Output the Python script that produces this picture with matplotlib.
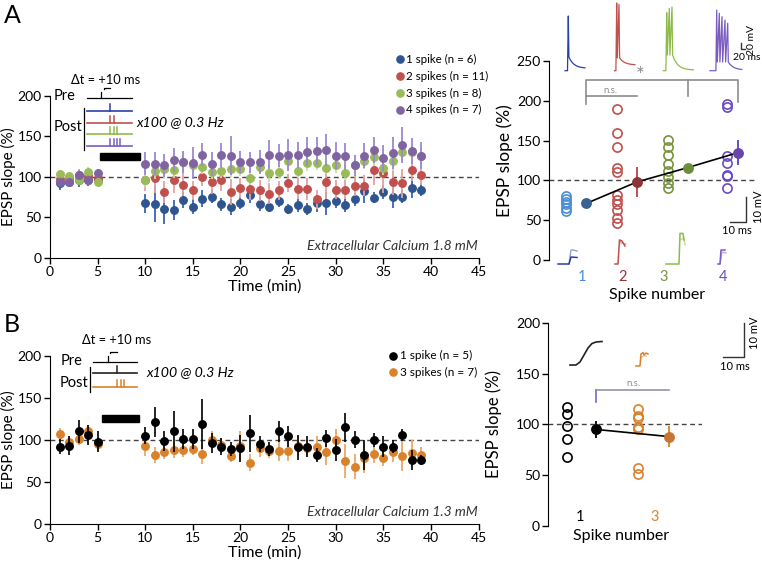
import numpy as np
import matplotlib.pyplot as plt
from matplotlib.patches import Rectangle

plt.rcParams['font.family'] = ['Lato', 'DejaVu Sans']

# ---- dati pannello A (Ca 1.8 mM) ----
time_min = [1, 2, 3, 4, 5, 10, 11, 12, 13, 14, 15, 16, 17, 18, 19, 20, 21, 22, 23, 24,
            25, 26, 27, 28, 29, 30, 31, 32, 33, 34, 35, 36, 37, 38, 39]

a_spk1 = [92, 94, 96, 96, 97,
          67, 66, 60, 59, 71, 63, 73, 75, 66, 63, 68, 77, 66, 63, 70,
          60, 65, 60, 67, 67, 70, 65, 72, 82, 74, 81, 75, 75, 86, 84]
a_spk1_err = [8, 6, 9, 7, 7,
              12, 22, 18, 12, 10, 9, 10, 8, 8, 10, 8, 9, 8, 7, 8,
              6, 8, 7, 10, 14, 9, 8, 8, 15, 7, 9, 14, 8, 12, 8]
a_spk2 = [97, 98, 102, 101, 99,
          96, 98, 81, 96, 90, 83, 100, 94, 96, 81, 86, 85, 83, 79, 83,
          92, 85, 85, 72, 93, 84, 84, 89, 89, 108, 105, 93, 92, 108, 102]
a_spk2_err = [6, 5, 7, 6, 6,
              14, 18, 14, 16, 14, 12, 12, 15, 14, 16, 12, 14, 13, 13, 12,
              11, 13, 14, 12, 20, 12, 12, 13, 13, 18, 25, 15, 18, 13, 12]
a_spk3 = [103, 101, 96, 106, 93,
          96, 107, 109, 108, 118, 114, 112, 106, 107, 110, 110, 99, 112, 104, 106,
          119, 107, 117, 117, 111, 114, 105, 114, 119, 124, 111, 119, 130, 130, 125]
a_spk3_err = [5, 4, 5, 6, 5,
              10, 10, 12, 10, 11, 10, 9, 9, 8, 10, 9, 9, 9, 10, 8,
              10, 9, 10, 9, 8, 9, 9, 9, 10, 11, 9, 12, 11, 10, 10]
a_spk4 = [94, 94, 102, 96, 104,
          116, 116, 114, 121, 118, 117, 127, 116, 127, 126, 118, 118, 118, 127, 126,
          127, 127, 131, 132, 133, 126, 125, 114, 126, 133, 123, 129, 139, 132, 126]
a_spk4_err = [6, 5, 6, 6, 6,
              14, 14, 14, 15, 14, 20, 14, 15, 15, 24, 14, 13, 15, 18, 14,
              20, 16, 18, 17, 20, 17, 17, 13, 15, 16, 16, 20, 22, 16, 17]
a_labels = ['1 spike (n = 6)', '2 spikes (n = 11)', '3 spikes (n = 8)', '4 spikes (n = 7)']

# singole cellule (ultimi minuti) per numero di spike
spike_num = [1, 2, 3, 4]
cells_1 = [80, 77, 73, 70, 65, 61]
cells_2 = [190, 160, 142, 115, 110, 82, 76, 70, 63, 53, 46]
cells_3 = [151, 142, 132, 121, 112, 104, 97, 90]
cells_4 = [196, 192, 131, 122, 107, 106, 91]
a_mean = [71, 98, 116, 135]
a_sem = [3, 19, 4, 16]

# ---- dati pannello B (Ca 1.3 mM) ----
b_spk1 = [92, 93, 110, 106, 98,
          105, 121, 99, 110, 101, 101, 119, 96, 92, 89, 90, 108, 95, 89, 110,
          104, 91, 92, 82, 102, 88, 115, 100, 82, 100, 92, 92, 106, 76, 76]
b_spk1_err = [9, 11, 14, 12, 13,
              10, 18, 12, 24, 12, 12, 30, 12, 10, 8, 16, 22, 10, 8, 12,
              13, 15, 12, 8, 10, 13, 17, 10, 18, 8, 12, 8, 7, 12, 6]
b_spk3 = [107, 97, 101, 110, 95,
          93, 82, 85, 88, 88, 89, 83, 100, 94, 81, 93, 73, 90, 87, 87,
          87, 93, 90, 91, 85, 100, 75, 68, 79, 83, 79, 86, 81, 84, 82]
b_spk3_err = [7, 8, 7, 8, 8,
              12, 10, 8, 10, 8, 7, 12, 10, 8, 7, 17, 10, 10, 9, 12,
              12, 12, 10, 13, 15, 13, 20, 15, 18, 10, 10, 12, 18, 16, 10]
b_labels = ['1 spike (n = 5)', '3 spikes (n = 7)']
b_spike_num = [1, 3]
b_cells_1 = [117, 110, 98, 86, 68]
b_cells_3 = [115, 108, 106, 97, 95, 57, 51]
b_mean = [95, 88]
b_sem = [8, 10]

pairing = (5.2, 9.4)   # barra nera (induzione)

# colori
c_mark = ['#2f5590', '#c0504d', '#9bbb59', '#8064a2']
c_err = ['#3a63b5', '#e0a3a1', '#c8dca4', '#9a8ad0']
c_open = ['#4a8fd6', '#c0504d', '#77933c', '#6a4cc0']
c_mean = ['#3a6190', '#8b3535', '#6b8e3a', '#6a45a8']
c_trace = ['#2a3fa8', '#c0504d', '#8dbb48', '#7a5cc0']
c_orange = '#d9822b'

W, H = 762, 563
fig = plt.figure(figsize=(W / 100, H / 100), dpi=100)


def px_axes(x0, y0, x1, y1):
    return fig.add_axes([x0 / W, 1 - y1 / H, (x1 - x0) / W, (y1 - y0) / H])


def style(ax):
    for s in ['top', 'right']:
        ax.spines[s].set_visible(False)
    ax.tick_params(direction='out', length=4, width=1, labelsize=10, pad=2)


dash = (0, (3.5, 2.5))

# ---------- A: andamento temporale ----------
axA = px_axes(50, 95.7, 478.6, 257.7)
style(axA)
series_a = [(a_spk1, a_spk1_err), (a_spk2, a_spk2_err), (a_spk3, a_spk3_err), (a_spk4, a_spk4_err)]
for i, (y, e) in enumerate(series_a):
    axA.errorbar(time_min, y, yerr=e, fmt='o', ms=5.4, color=c_mark[i], mec=c_mark[i],
                 ecolor=c_err[i], elinewidth=1.3, capsize=0, zorder=3 + i)
axA.axhline(100, color='#444444', lw=1, ls=dash, zorder=2)
axA.add_patch(Rectangle((pairing[0], 121), pairing[1] - pairing[0], 8, color='black', zorder=5))
axA.set_xlim(0, 45)
axA.set_ylim(0, 200)
axA.set_xticks(range(0, 46, 5))
axA.set_yticks(range(0, 201, 50))
axA.set_xlabel('Time (min)', fontsize=11.5, labelpad=1)
axA.set_ylabel('EPSP slope (%)', fontsize=11)
axA.yaxis.set_label_coords(-0.079, 0.5)
axA.text(0.999, 0.07, 'Extracellular Calcium 1.8 mM', transform=axA.transAxes, ha='right',
         va='center', fontsize=10, style='italic', color='#333333')

# ---------- A: numero di spike ----------
axAr = px_axes(549.3, 61, 755, 260)
style(axAr)
axAr.spines['bottom'].set_visible(False)
axAr.set_xticks([])
axAr.set_xlim(0.473, 4.53)
axAr.set_ylim(0, 250)
axAr.set_yticks(range(0, 251, 50))
axAr.set_ylabel('EPSP slope (%)', fontsize=12.5)
axAr.yaxis.set_label_coords(-0.176, 0.5)
axAr.axhline(100, color='#444444', lw=1, ls=dash, zorder=1)
open_dx = [-0.2, -0.19, -0.19, -0.02]
mean_x = [k + 0.2 for k in spike_num]
for i, cells in enumerate([cells_1, cells_2, cells_3, cells_4]):
    axAr.plot([spike_num[i] + open_dx[i]] * len(cells), cells, 'o', mfc='none', mec=c_open[i],
              ms=6.6, mew=1.2, zorder=3)
axAr.plot(mean_x, a_mean, color='black', lw=1.2, zorder=4)
for i in range(4):
    axAr.errorbar(mean_x[i], a_mean[i], yerr=a_sem[i], fmt='o', ms=6.8, color=c_mean[i],
                  ecolor=c_open[i], elinewidth=1.4, capsize=0, zorder=5)
lab_x = [1.12, 1.91, 2.72, 3.9]
for i, k in enumerate(spike_num):
    axAr.text(lab_x[i], -0.085, str(k), transform=axAr.get_xaxis_transform(), ha='center',
              va='center', fontsize=10.5, color=c_open[i] if i != 1 else '#943634')
axAr.text(2.59, -0.176, 'Spike number', transform=axAr.get_xaxis_transform(), ha='center',
          va='center', fontsize=11.5)
gr = '#8c8c8c'
axAr.plot([1.2, 1.2, 2.2], [196, 205.5, 205.5], color=gr, lw=1.2, clip_on=False)
axAr.plot([1.2, 1.2, 4.2, 4.2], [205.5, 225.6, 225.6, 199], color=gr, lw=1.2, clip_on=False)
axAr.plot([3.2, 3.2], [225.6, 205.5], color=gr, lw=1.2, clip_on=False)
axAr.text(1.67, 213, 'n.s.', ha='center', va='center', fontsize=7, color=gr)
axAr.text(2.26, 231, '*', ha='center', va='center', fontsize=15, color=gr)

# ---------- B: andamento temporale ----------
axB = px_axes(50, 355.7, 478.6, 524)
style(axB)
axB.errorbar(time_min, b_spk3, yerr=b_spk3_err, fmt='o', ms=5.4, color=c_orange, mec=c_orange,
             ecolor='#e8a868', elinewidth=1.3, capsize=0, zorder=3)
axB.errorbar(time_min, b_spk1, yerr=b_spk1_err, fmt='o', ms=5.4, color='black',
             ecolor='black', elinewidth=1.2, capsize=0, zorder=4)
axB.axhline(100, color='#444444', lw=1, ls=dash, zorder=2)
axB.add_patch(Rectangle((5.43, 121.6), 3.95, 8, color='black', zorder=5))
axB.set_xlim(0, 45)
axB.set_ylim(0, 200)
axB.set_xticks(range(0, 46, 5))
axB.set_yticks(range(0, 201, 50))
axB.set_xlabel('Time (min)', fontsize=11.5, labelpad=1)
axB.set_ylabel('EPSP slope (%)', fontsize=11)
axB.yaxis.set_label_coords(-0.079, 0.5)
axB.text(0.999, 0.07, 'Extracellular Calcium 1.3 mM', transform=axB.transAxes, ha='right',
         va='center', fontsize=10, style='italic', color='#333333')

# ---------- B: numero di spike ----------
axBr = px_axes(548.3, 322.7, 701.7, 526)
style(axBr)
axBr.spines['bottom'].set_visible(False)
axBr.set_xticks([])
axBr.set_xlim(0.148, 4.27)
axBr.set_ylim(0, 200)
axBr.set_yticks(range(0, 201, 50))
axBr.set_ylabel('EPSP slope (%)', fontsize=12)
axBr.yaxis.set_label_coords(-0.30, 0.5)
axBr.axhline(100, color='#444444', lw=1, ls=dash, zorder=1)
b_open_x = [0.65, 2.57]
b_mean_x = [1.43, 3.38]
b_col = ['black', c_orange]
for i, cells in enumerate([b_cells_1, b_cells_3]):
    axBr.plot([b_open_x[i]] * len(cells), cells, 'o', mfc='none', mec=b_col[i], ms=6.6, mew=1.2)
axBr.plot(b_mean_x, b_mean, color='black', lw=1.2, zorder=4)
for i in range(2):
    axBr.errorbar(b_mean_x[i], b_mean[i], yerr=b_sem[i], fmt='o', ms=6.8,
                  color=b_col[i] if i == 0 else '#c87533', ecolor=b_col[i],
                  elinewidth=1.3, capsize=0, zorder=5)
for i, k in enumerate(b_spike_num):
    axBr.text(k, 9, str(k), ha='center', va='center', fontsize=10.5, color=b_col[i])
axBr.text(2.1, -0.05, 'Spike number', transform=axBr.get_xaxis_transform(), ha='center',
          va='center', fontsize=11.5)
axBr.plot([1.43, 1.43], [122, 133.8], color='#6060c0', lw=1.1)
axBr.plot([1.43, 3.38], [133.8, 133.8], color='#8a8aa8', lw=1.1)
axBr.text(2.43, 140.4, 'n.s.', ha='center', va='center', fontsize=7, color=gr)

# ---------- sovrapposizione in pixel: inserti, tracce, legende ----------
ov = fig.add_axes([0, 0, 1, 1], zorder=10)
ov.set_xlim(0, W)
ov.set_ylim(H, 0)
ov.axis('off')
ov.patch.set_alpha(0)

ov.text(12, 15.5, 'A', fontsize=18, ha='center', va='center')
ov.text(12, 324, 'B', fontsize=18, ha='center', va='center')

# legende
for i, lab in enumerate(a_labels):
    y = [59.3, 76.3, 93, 109.7][i]
    ov.plot(400, y, 'o', color=c_mark[i], ms=5.2)
    ov.text(405.5, y, lab, fontsize=8.3, va='center', ha='left')
for i, lab in enumerate(b_labels):
    y = [355.7, 372.3][i]
    ov.plot(393, y, 'o', color=['black', c_orange][i], ms=5.2)
    ov.text(399.5, y, lab, fontsize=8.5, va='center', ha='left')


def protocol(xl, xr, y_pre, x_pre, y_posts, cols, nspk, x_post0, vx, vy, dt_xy, pre_xy, post_xy, hz_xy):
    k = dict(lw=0.9)
    ov.text(dt_xy[0], dt_xy[1], 'Δt = +10 ms', ha='center', va='center', fontsize=9.3)
    ov.plot([xl, xr], [y_pre, y_pre], color='black', **k)
    ov.plot([x_pre, x_pre], [y_pre, y_pre - 6.5], color='black', **k)
    ov.plot([x_pre + 2.5, x_pre + 2.5, x_pre + 9], [y_pre - 9, y_pre - 10.5, y_pre - 10.5], color='black', **k)
    ov.text(pre_xy[0], pre_xy[1], 'Pre', ha='left', va='center', fontsize=10.5)
    ov.text(post_xy[0], post_xy[1], 'Post', ha='left', va='center', fontsize=10.5)
    ov.plot([vx, vx], vy, color='black', **k)
    for yp, c, n in zip(y_posts, cols, nspk):
        ov.plot([xl, xr], [yp, yp], color=c, lw=1.2)
        for j in range(n):
            xs = x_post0 + 3.3 * j
            ov.plot([xs, xs], [yp, yp - 7], color=c, lw=1.1)
    ov.text(hz_xy[0], hz_xy[1], 'x100 @ 0.3 Hz', ha='left', va='center', fontsize=10.2, style='italic')


protocol(86.7, 131.7, 98.3, 101, [110.7, 122.7, 134.3, 146], c_trace, spike_num, 110.3,
         84.3, [108, 150], (106, 80), (54, 96), (54, 127.3), (136.7, 121.7))
protocol(92.7, 137.3, 362.3, 107.7, [373.3, 386.7], ['#222222', c_orange], b_spike_num, 117.3,
         90, [367.3, 391.7], (116.7, 340.5), (60.7, 360.7), (60, 382.7), (146, 371.7))


# tracce di voltaggio (schematiche)
def spike_trace(x0, xs_spk, peaks, base, adp, x_end, y_end):
    xx = [x0, xs_spk[0] - 0.8]
    yy = [base, base]
    for xs, pk in zip(xs_spk, peaks):
        xx += [xs, xs + 0.6]
        yy += [pk, adp]
    tx = np.linspace(xs_spk[-1] + 0.6, x_end, 14)
    ty = y_end + (adp - y_end) * np.exp(-(tx - tx[0]) / 5.0)
    return xx + list(tx[1:]), yy + list(ty[1:])


top = [(565, [568.3], [16], 57, 585, 68.3),
       (614.5, [616.7, 619], [3, 4.5], 58, 635, 65),
       (663.3, [666.7, 669.3, 672], [12.7, 8.5, 7], 55, 693.3, 70),
       (710, [716.7, 719.3, 722, 725, 727.7], [10, 13.3, 16.7, 20, 23.3], 62, 741.7, 70)]
for i, (x0, xs, pk, adp, xe, ye) in enumerate(top):
    xx, yy = spike_trace(x0, xs, pk, 70.7, adp, xe, ye)
    ov.plot(xx, yy, color=c_trace[i], lw=0.9)

# piccoli EPSP
epsp = [([558, 569, 571, 577], [264, 264, 257, 257.5], [569, 571, 573, 577], [264, 250, 250, 251]),
        ([615, 618, 619.5, 622, 625], [264, 264, 240, 241, 246], [619.5, 621, 626], [240, 243, 244]),
        ([666, 679, 680, 683, 684], [264, 264, 233.3, 233.5, 240], [680, 684, 685], [240, 238, 245]),
        ([718, 720, 721, 725], [264, 264, 250, 250], [720, 722, 726], [264, 252, 253])]
for i, (x1, y1, x2, y2) in enumerate(epsp):
    ov.plot(x1, y1, color=c_trace[i], lw=1.1)
    ov.plot(x2, y2, color=c_trace[i], lw=1, alpha=0.5)
ov.plot([570, 576, 580, 584, 588, 592, 596, 602], [365, 365, 362, 355, 348, 343.5, 342, 341.5],
        color='#222222', lw=1.2)
ov.plot([636, 640, 641, 643, 644, 646, 648], [366, 366, 354, 352.5, 355, 353, 354], color=c_orange, lw=1.1)
ov.plot([641, 643, 646], [358, 356, 356], color=c_orange, lw=1, alpha=0.5)

# barre di scala
sb = dict(color='#333333', lw=1)
ov.plot([741, 741, 745], [43, 48.5, 48.5], **sb)
ov.text(751.7, 40, '20 mV', rotation=90, ha='center', va='center', fontsize=7.5)
ov.text(746.7, 57, '20 ms', ha='center', va='center', fontsize=7.5)
ov.plot([730, 746, 746], [221.7, 221.7, 196.7], **sb)
ov.text(758, 206.7, '10 mV', rotation=90, ha='center', va='center', fontsize=8)
ov.text(737, 230, '10 ms', ha='center', va='center', fontsize=8)
ov.plot([723.3, 744.3, 744.3], [356.7, 356.7, 322.7], **sb)
ov.text(755, 333, '10 mV', rotation=90, ha='center', va='center', fontsize=8)
ov.text(735, 366.7, '10 ms', ha='center', va='center', fontsize=8)

fig.savefig('out.png', dpi=100)
